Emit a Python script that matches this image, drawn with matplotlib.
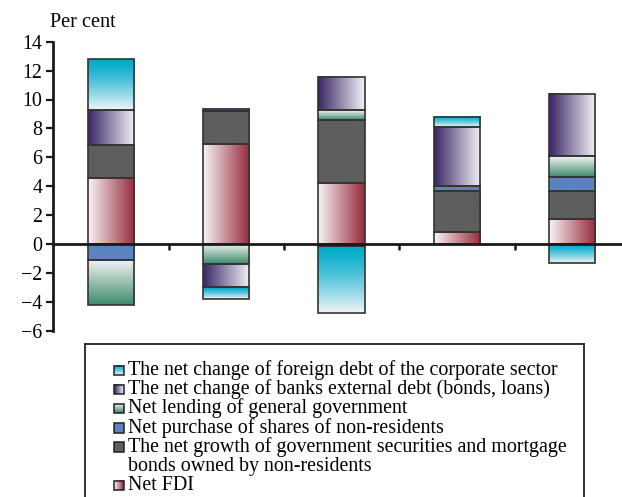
import numpy as np
import matplotlib.pyplot as plt
from matplotlib.colors import to_rgb

plt.rcParams['font.family'] = ['Liberation Serif', 'DejaVu Serif']

# ---- data (per cent), stacked from the bottom up ----
periods = ['1', '2', '3', '4', '5']
fdi = [4.6, 6.9, 4.2, 0.8, 1.75]
gov_securities = [2.25, 2.3, 4.4, 2.9, 1.9]
shares = [-1.08, 0.14, -0.12, 0.28, 1.0]
gov_lending = [-3.17, -1.41, 0.65, 0.0, 1.41]
bank_debt = [2.45, -1.57, 2.31, 4.12, 4.32]
corporate_debt = [3.49, -0.8, -4.63, 0.71, -1.29]

series = [fdi, gov_securities, shares, gov_lending, bank_debt, corporate_debt]

# legend order (top to bottom) as in the original
legend_labels = [
    'The net change of foreign debt of the corporate sector',
    'The net change of banks external debt (bonds, loans)',
    'Net lending of general government',
    'Net purchase of shares of non-residents',
    'The net growth of government securities and mortgage\nbonds owned by non-residents',
    'Net FDI',
]

# fill styles: (direction, first colour, second colour)
# 'h' = left -> right, 'v' = top -> bottom
styles = [
    ('h', '#f7f3f4', '#962a3b'),   # FDI
    ('h', '#5e5e5e', '#5e5e5e'),   # government securities
    ('h', '#5b83bf', '#5b83bf'),   # shares
    ('v', '#f3f5f5', '#3f8a6a'),   # lending of general government
    ('h', '#3a2666', '#f2f2f6'),   # banks external debt
    ('v', '#00aacb', '#f2f5f8'),   # corporate foreign debt
]


def gradient(direction, c0, c1, n=96):
    t = np.linspace(0, 1, n)
    if direction == 'v' and c0 == '#00aacb':
        t = t ** 1.3
    a, b = np.array(to_rgb(c0)), np.array(to_rgb(c1))
    cols = a[None, :] * (1 - t[:, None]) + b[None, :] * t[:, None]
    if direction == 'h':
        return cols[None, :, :]
    return cols[:, None, :]


W, H = 622, 497
fig = plt.figure(figsize=(W / 100, H / 100), dpi=100)
ax = fig.add_axes([53.3 / W, 1 - 330.7 / H, 576.5 / W, 289.0 / H])

x = np.arange(len(periods))
pos_base = np.zeros(len(periods))
neg_base = np.zeros(len(periods))
for vals, (direction, c0, c1) in zip(series, styles):
    vals = np.array(vals, dtype=float)
    bottom = np.where(vals >= 0, pos_base, neg_base)
    bars = ax.bar(x, vals, width=0.4, bottom=bottom, facecolor='none',
                  edgecolor='#333333', linewidth=1.2, zorder=3)
    pos_base += np.clip(vals, 0, None)
    neg_base += np.clip(vals, None, 0)
    img = gradient(direction, c0, c1)
    for patch in bars:
        if patch.get_height() == 0:
            patch.set_visible(False)
            continue
        x0 = patch.get_x()
        x1 = x0 + patch.get_width()
        y0 = patch.get_y()
        y1 = y0 + patch.get_height()
        ax.imshow(img, extent=(x0, x1, min(y0, y1), max(y0, y1)), aspect='auto',
                  interpolation='bilinear', zorder=2)

ax.set_xlim(-0.5, len(periods) - 0.5)
ax.set_ylim(-6, 14)
ax.set_yticks(np.arange(-6, 15, 2))
ax.set_yticklabels([str(v).replace('-', '\u2212') for v in range(-6, 15, 2)])
ax.set_xticks(x[:-1] + 0.5)
ax.set_xticklabels([])

for s in ['top', 'right']:
    ax.spines[s].set_visible(False)
ax.spines['bottom'].set_position(('data', 0))
ax.spines['bottom'].set_zorder(5)
for s in ['left', 'bottom']:
    ax.spines[s].set_linewidth(2)
    ax.spines[s].set_color('#1a1a1a')
ax.tick_params(axis='y', direction='out', length=5, width=1.6, labelsize=14.4,
               pad=3, color='#1a1a1a')
ax.tick_params(axis='x', direction='out', length=4, width=1.8, color='#1a1a1a')
ax.set_facecolor('none')

fig.text(50 / W, 1 - 27 / H, 'Per cent', fontsize=14.6, va='baseline', ha='left')

# ---- legend box, drawn in pixel coordinates ----
box_l, box_r, box_t = 85, 584, 343.5
lg = fig.add_axes([box_l / W, 0, (box_r - box_l) / W, (H - box_t) / H])
lg.set_xticks([])
lg.set_yticks([])
lg.spines['bottom'].set_visible(False)
for s in ['left', 'top', 'right']:
    lg.spines[s].set_linewidth(1.3)
    lg.spines[s].set_color('#222222')

line_h = 19.2
baseline = 375
sq = 9.5
for label, (direction, c0, c1) in zip(legend_labels, styles[::-1]):
    img = gradient(direction, c0, c1, n=16)
    lg.imshow(img, extent=(114, 114 + sq, baseline, baseline - sq), aspect='auto',
              interpolation='bilinear', zorder=2)
    lg.add_patch(plt.Rectangle((114, baseline - sq), sq, sq, facecolor='none',
                               edgecolor='#222222', linewidth=1.1, zorder=3))
    for part in label.split('\n'):
        lg.text(128, baseline, part, fontsize=14.4, va='baseline', ha='left')
        baseline += line_h

lg.set_xlim(box_l, box_r)
lg.set_ylim(H, box_t)

fig.savefig('out.png', dpi=100)
